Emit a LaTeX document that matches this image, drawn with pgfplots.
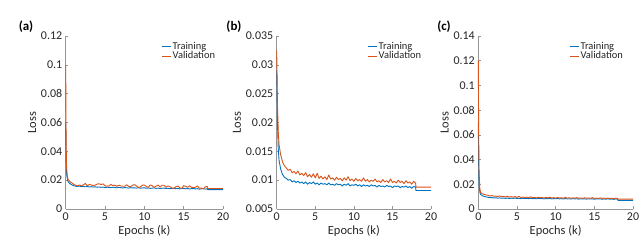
\documentclass[border=0pt]{standalone}
\usepackage{pgfplots}
\usepackage{pgfplotstable}
\pgfplotsset{compat=1.18}
\usepackage{fontspec}
\setmainfont{Carlito}
\definecolor{mblue}{RGB}{0,114,189}
\definecolor{morange}{RGB}{217,83,25}
\definecolor{axgray}{RGB}{150,150,150}
\definecolor{txt}{RGB}{38,38,38}

\pgfplotstableread{
x t v
0 0.060 0.100
0.05 0.035 0.050
0.1 0.025 0.030
0.2 0.021 0.023
0.3 0.019 0.0205
0.5 0.0178 0.0192
0.75 0.0168 0.0182
1.0 0.0162 0.0172
1.25 0.0158 0.0165
1.5 0.0156 0.0160
1.75 0.0159 0.0167
2 0.0155 0.0160
2.25 0.0157 0.0168
2.5 0.0154 0.0177
2.75 0.0156 0.0161
3 0.0153 0.0170
3.25 0.0155 0.0167
3.5 0.0152 0.0162
3.75 0.0154 0.0166
4 0.0151 0.0173
4.25 0.0153 0.0175
4.5 0.0150 0.0170
4.75 0.0152 0.0174
5 0.0149 0.0161
5.25 0.0151 0.0158
5.5 0.0150 0.0160
5.75 0.0148 0.0171
6 0.0151 0.0162
6.25 0.0149 0.0166
6.5 0.0147 0.0157
6.75 0.0150 0.0165
7 0.0148 0.0160
7.25 0.0146 0.0158
7.5 0.0149 0.0158
7.75 0.0147 0.0168
8 0.0145 0.0157
8.25 0.0148 0.0154
8.5 0.0146 0.0165
8.75 0.0147 0.0169
9 0.0145 0.0160
9.25 0.0148 0.0149
9.5 0.0144 0.0153
9.75 0.0146 0.0166
10 0.0147 0.0166
10.25 0.0144 0.0156
10.5 0.0146 0.0150
10.75 0.0143 0.0167
11 0.0145 0.0162
11.25 0.0146 0.0149
11.5 0.0143 0.0159
11.75 0.0145 0.0166
12 0.0142 0.0152
12.25 0.0144 0.0165
12.5 0.0145 0.0165
12.75 0.0142 0.0151
13 0.0144 0.0160
13.25 0.0141 0.0155
13.5 0.0143 0.0146
13.75 0.0144 0.0143
14 0.0141 0.0154
14.25 0.0143 0.0160
14.5 0.0140 0.0147
14.75 0.0142 0.0142
15 0.0143 0.0162
15.25 0.0140 0.0157
15.5 0.0142 0.0150
15.75 0.0139 0.0161
16 0.0141 0.0150
16.25 0.0142 0.0149
16.5 0.0139 0.0151
16.75 0.0141 0.0160
17 0.0138 0.0144
17.25 0.0140 0.0146
17.5 0.0141 0.0139
17.75 0.0138 0.0154
18 0.0140 0.0156
18.05 0.0134 0.0142
20 0.0134 0.0142
}\tableA

\pgfplotstableread{
x t v
0 0.029 0.0325
0.05 0.025 0.028
0.1 0.020 0.023
0.2 0.0155 0.0185
0.3 0.0135 0.0162
0.5 0.0120 0.0145
0.75 0.0110 0.0132
1.0 0.0105 0.0125
1.25 0.0103 0.0121
1.5 0.0100 0.0117
1.75 0.0101 0.0119
2 0.0097 0.0113
2.25 0.0099 0.0115
2.5 0.0096 0.0111
2.75 0.0098 0.0116
3 0.0095 0.0109
3.25 0.0097 0.0112
3.5 0.0094 0.0108
3.75 0.0097 0.0113
4 0.0093 0.0106
4.25 0.0096 0.0110
4.5 0.0094 0.0105
4.75 0.0097 0.0111
5 0.0093 0.0104
5.25 0.0095 0.0112
5.5 0.0092 0.0103
5.75 0.0095 0.0107
6 0.0093 0.0102
6.25 0.0094 0.0106
6.5 0.0092 0.0101
6.75 0.0095 0.0109
7 0.0092 0.0102
7.25 0.0093 0.0104
7.5 0.0091 0.0100
7.75 0.0094 0.0105
8 0.0092 0.0101
8.25 0.0093 0.0103
8.5 0.0090 0.0099
8.75 0.0093 0.0104
9 0.0091 0.0100
9.25 0.0094 0.0106
9.5 0.0090 0.0099
9.75 0.0092 0.0102
10 0.0091 0.0098
10.25 0.0093 0.0103
10.5 0.0090 0.0099
10.75 0.0092 0.0101
11 0.0089 0.0098
11.25 0.0092 0.0104
11.5 0.0090 0.0098
11.75 0.0091 0.0101
12 0.0089 0.0097
12.25 0.0092 0.0100
12.5 0.0090 0.0098
12.75 0.0091 0.0102
13 0.0088 0.0097
13.25 0.0091 0.0099
13.5 0.0089 0.0096
13.75 0.0090 0.0101
14 0.0088 0.0097
14.25 0.0091 0.0099
14.5 0.0089 0.0096
14.75 0.0090 0.0102
15 0.0087 0.0096
15.25 0.0090 0.0098
15.5 0.0089 0.0095
15.75 0.0090 0.0100
16 0.0087 0.0096
16.25 0.0089 0.0098
16.5 0.0088 0.0094
16.75 0.0090 0.0099
17 0.0087 0.0095
17.25 0.0089 0.0097
17.5 0.0086 0.0093
17.75 0.0089 0.0098
18 0.0088 0.0095
18.05 0.0082 0.0088
20 0.0082 0.0088
}\tableB

\pgfplotstableread{
x t v
0 0.070 0.120
0.05 0.035 0.060
0.1 0.020 0.030
0.2 0.0135 0.016
0.3 0.0118 0.0135
0.5 0.0108 0.0124
0.75 0.0102 0.0118
1.0 0.0098 0.0114
1.25 0.0095 0.0110
1.5 0.0092 0.0106
1.75 0.0093 0.0108
2 0.0089 0.0103
2.25 0.0091 0.0105
2.5 0.0088 0.0101
2.75 0.0090 0.0106
3 0.0087 0.0099
3.25 0.0089 0.0102
3.5 0.0086 0.0098
3.75 0.0089 0.0103
4 0.0085 0.0096
4.25 0.0088 0.0100
4.5 0.0086 0.0095
4.75 0.0089 0.0101
5 0.0085 0.0094
5.25 0.0087 0.0102
5.5 0.0084 0.0093
5.75 0.0087 0.0097
6 0.0085 0.0092
6.25 0.0086 0.0096
6.5 0.0084 0.0091
6.75 0.0087 0.0099
7 0.0084 0.0092
7.25 0.0085 0.0094
7.5 0.0083 0.0090
7.75 0.0086 0.0095
8 0.0084 0.0091
8.25 0.0085 0.0093
8.5 0.0082 0.0089
8.75 0.0085 0.0094
9 0.0083 0.0090
9.25 0.0086 0.0096
9.5 0.0082 0.0089
9.75 0.0084 0.0092
10 0.0083 0.0088
10.25 0.0085 0.0093
10.5 0.0082 0.0089
10.75 0.0084 0.0091
11 0.0081 0.0088
11.25 0.0084 0.0094
11.5 0.0082 0.0088
11.75 0.0083 0.0091
12 0.0081 0.0087
12.25 0.0084 0.0090
12.5 0.0082 0.0088
12.75 0.0083 0.0092
13 0.0080 0.0087
13.25 0.0083 0.0089
13.5 0.0081 0.0086
13.75 0.0082 0.0091
14 0.0080 0.0087
14.25 0.0083 0.0089
14.5 0.0081 0.0086
14.75 0.0082 0.0092
15 0.0079 0.0086
15.25 0.0082 0.0088
15.5 0.0081 0.0085
15.75 0.0082 0.0090
16 0.0079 0.0086
16.25 0.0081 0.0088
16.5 0.0080 0.0084
16.75 0.0082 0.0089
17 0.0079 0.0085
17.25 0.0081 0.0087
17.5 0.0078 0.0083
17.75 0.0081 0.0088
18 0.0080 0.0085
18.05 0.0070 0.0080
20 0.0070 0.0080
}\tableC

\pgfplotsset{
  legend image code/.code={\draw[#1, line width=0.8pt] (0bp,0bp) -- (9bp,0bp);},
  panel/.style={
    scale only axis,
    height=173bp,
    xmin=0, xmax=20,
    xtick={0,5,10,15,20},
    axis lines*=left,
    axis line style={axgray, line width=0.6pt},
    tick style={axgray, line width=0.5pt},
    tick align=inside,
    major tick length=2.5bp,
    tick label style={font=\fontsize{12}{13}\selectfont, text=txt},
    label style={font=\fontsize{12.5}{14}\selectfont, text=txt},
    xlabel={Epochs (k)},
    ylabel={Loss},
    scaled y ticks=false,
    /pgf/number format/assume math mode=true,
    yticklabel style={/pgf/number format/fixed, /pgf/number format/precision=3},
    legend style={draw=none, fill=none, font=\fontsize{10.5}{11}\selectfont, text=txt,
      anchor=north west, inner sep=0pt, row sep=-1.5pt,
      nodes={inner sep=1pt}},
    legend cell align=left,
    every axis plot/.append style={line width=0.9pt, line join=round},
    xlabel style={yshift=2bp}, ylabel style={yshift=-2bp},
    clip=false,
  }
}

\begin{document}
\begin{tikzpicture}
\useasboundingbox (0bp,0bp) rectangle (640bp,240bp);

\begin{axis}[panel, at={(65.7bp,31bp)}, anchor=south west, width=157.3bp,
  ymin=0, ymax=0.12, ytick={0,0.02,0.04,0.06,0.08,0.1,0.12},
  legend style={at={(0.61,0.97)}}]
\addplot[mblue] table[x=x, y=t] {\tableA};
\addplot[morange] table[x=x, y=v] {\tableA};
\legend{Training, Validation}
\end{axis}

\begin{axis}[panel, at={(276.7bp,31bp)}, anchor=south west, width=154.3bp,
  ymin=0.005, ymax=0.035, ytick={0.005,0.01,0.015,0.02,0.025,0.03,0.035},
  legend style={at={(0.59,0.97)}}]
\addplot[mblue] table[x=x, y=t] {\tableB};
\addplot[morange] table[x=x, y=v] {\tableB};
\legend{Training, Validation}
\end{axis}

\begin{axis}[panel, at={(478.3bp,31bp)}, anchor=south west, width=154.7bp,
  ymin=0, ymax=0.14, ytick={0,0.02,0.04,0.06,0.08,0.1,0.12,0.14},
  legend style={at={(0.59,0.97)}}]
\addplot[mblue] table[x=x, y=t] {\tableC};
\addplot[morange] table[x=x, y=v] {\tableC};
\legend{Training, Validation}
\end{axis}

\node[font=\bfseries\fontsize{13}{14}\selectfont, text=black] at (26bp,213bp) {(a)};
\node[font=\bfseries\fontsize{13}{14}\selectfont, text=black] at (234bp,213bp) {(b)};
\node[font=\bfseries\fontsize{13}{14}\selectfont, text=black] at (444bp,213bp) {(c)};
\end{tikzpicture}
\end{document}
